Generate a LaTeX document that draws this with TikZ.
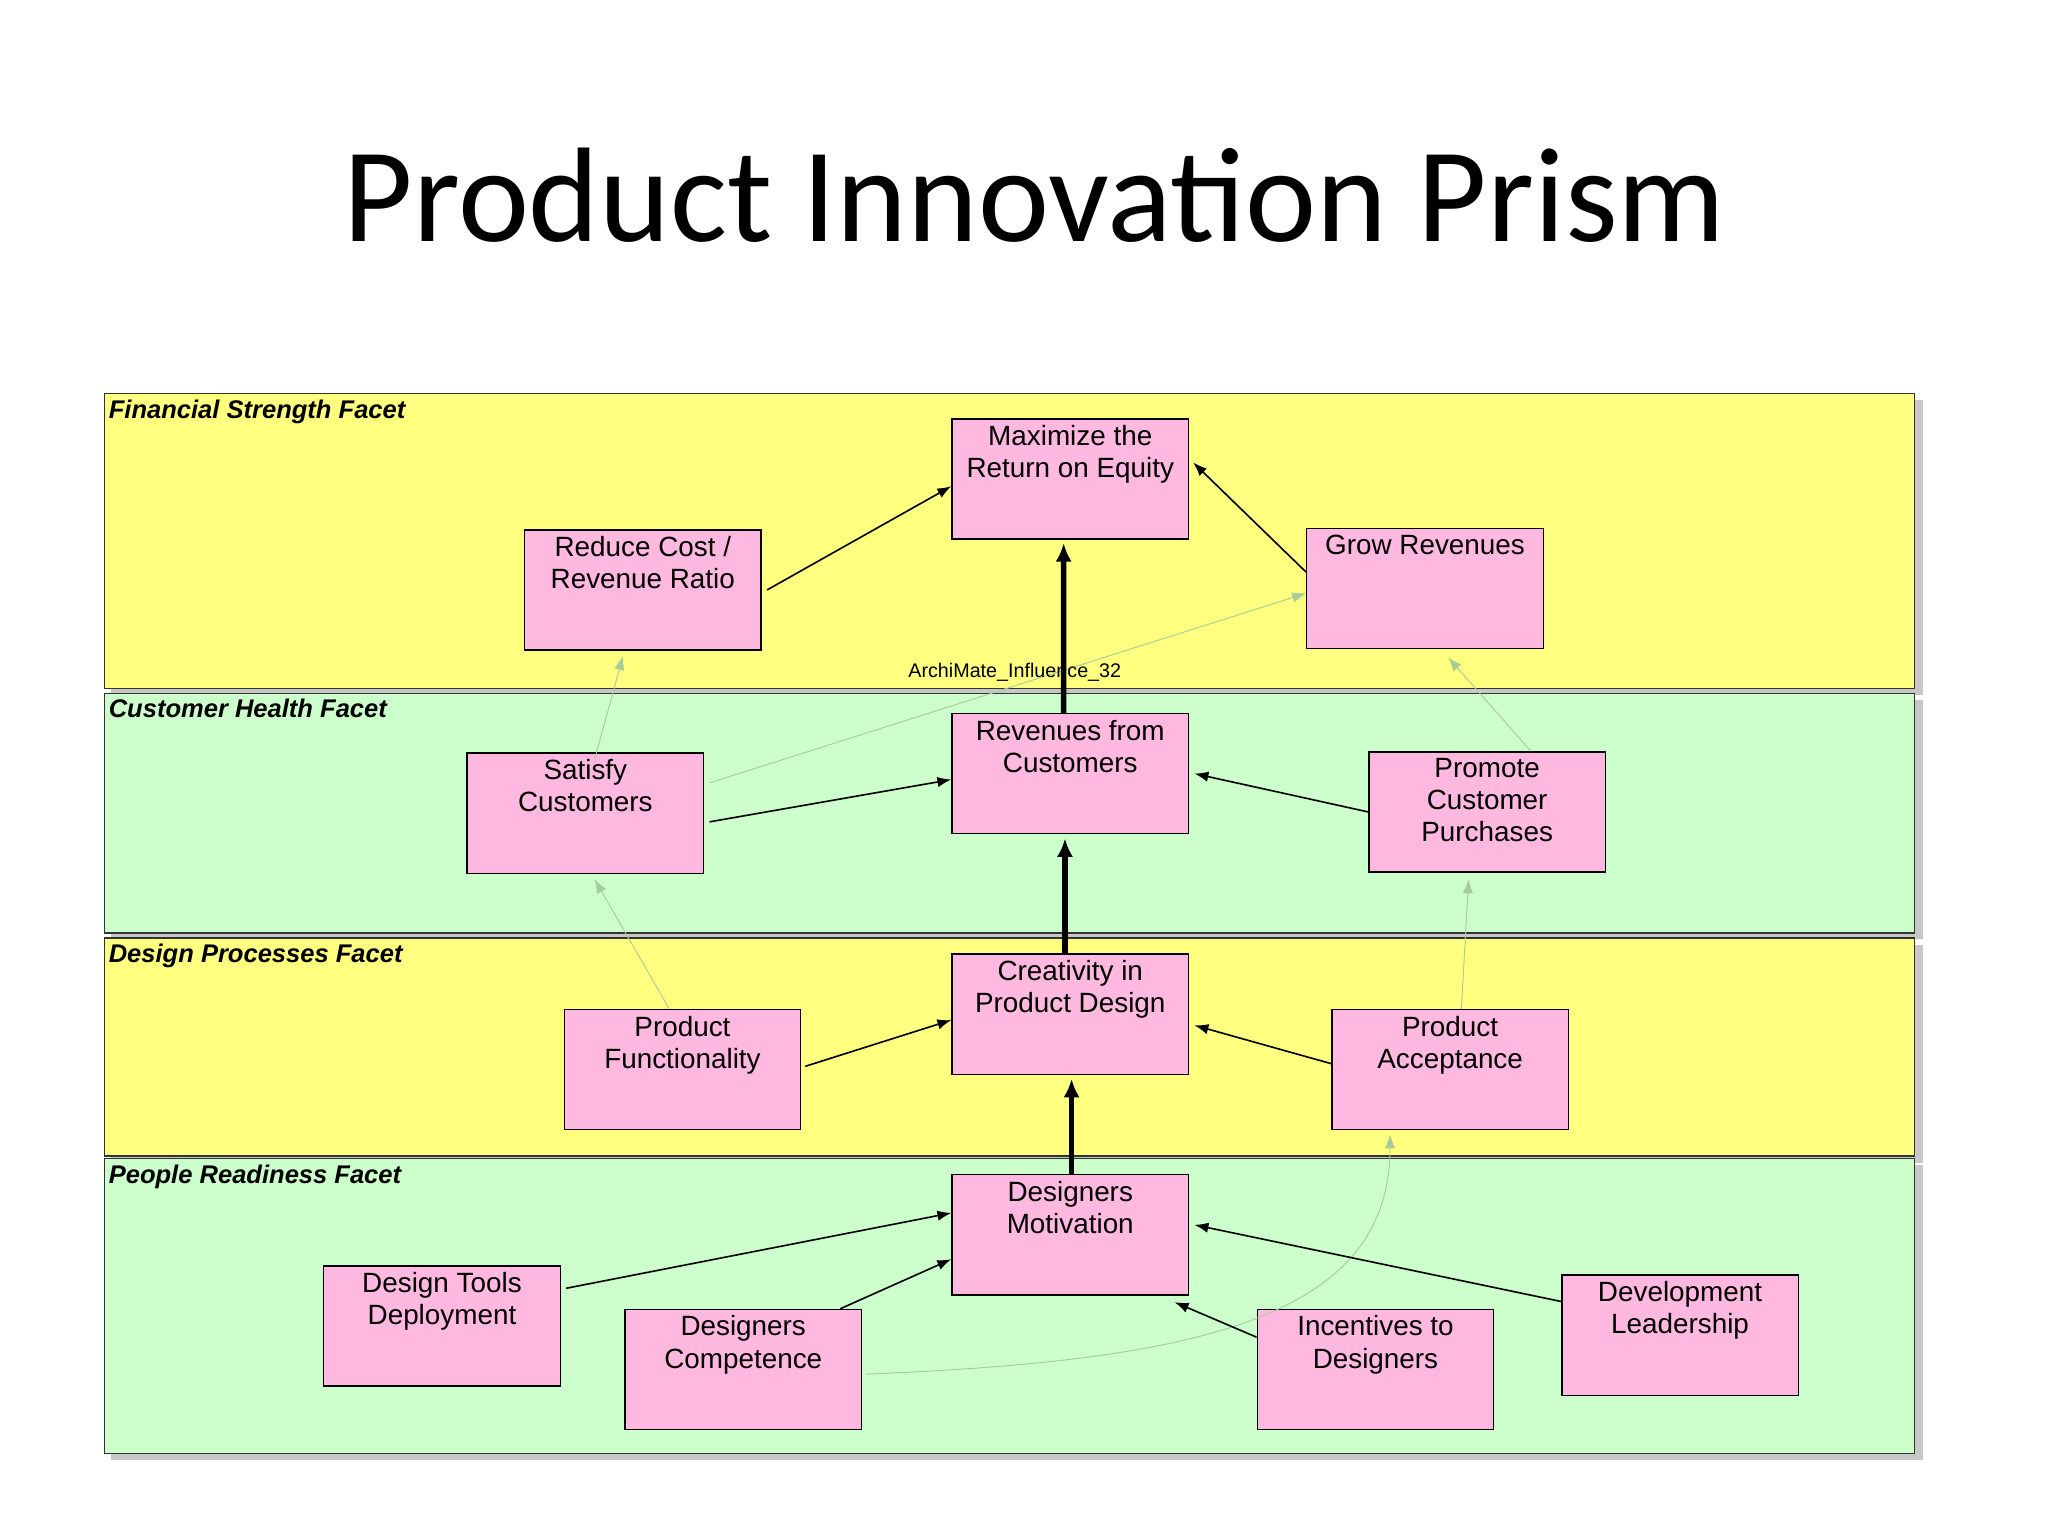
\documentclass[tikz,border=0pt]{standalone}
\usepackage{fontspec}
\setmainfont{Liberation Sans}
\newfontfamily\titlefont{Carlito}
\usetikzlibrary{shapes.misc,arrows.meta}
\definecolor{fy}{HTML}{FFFF80}
\definecolor{fg}{HTML}{CCFFCC}
\definecolor{pk}{HTML}{FFB8E0}
\definecolor{lg}{HTML}{A8CC98}
\begin{document}
\begin{tikzpicture}[x=0.02cm,y=-0.02cm,
  facet/.style={draw=black!80,line width=0.6pt},
  shadow/.style={fill=black!22,draw=none},
  flabel/.style={anchor=north west,font=\fontsize{11}{13}\selectfont\bfseries\itshape,inner sep=0pt},
  el/.style={chamfered rectangle,chamfered rectangle xsep=0.2cm,chamfered rectangle ysep=0.2cm,draw=black,fill=pk,minimum width=3.58cm,minimum height=1.82cm,inner sep=0pt,line width=0.6pt},
  etext/.style={anchor=north,align=center,font=\fontsize{12}{13.8}\selectfont,inner sep=0pt},
  thin/.style={-{Latex[length=6pt,width=4.5pt]},line width=0.7pt},
  thick/.style={-{Latex[length=8pt,width=7pt]},line width=2.4pt},
  soft/.style={-{Latex[length=6pt,width=4.5pt]},line width=0.4pt,draw=lg},
]
\useasboundingbox[fill=white] (0,0) rectangle (1550,1162);
\node[font=\titlefont\fontsize{58}{64}\selectfont] (title) at (783,148) {Product Innovation Prism};
% facets
\foreach \a/\b/\c in {298/521/fy,525/706/fg,710/875/fy,877/1100/fg}{
  \fill[shadow] (84,\a+5) rectangle (1455,\b+5);
  \draw[facet,fill=\c] (79,\a) rectangle (1449,\b);
}
\node[flabel] (f1) at (82,302) {Financial Strength Facet};
\node[flabel] (f2) at (82,529) {Customer Health Facet};
\node[flabel] (f3) at (82,714) {Design Processes Facet};
\node[flabel] (f4) at (82,881) {People Readiness Facet};
% elements
\newcommand\elem[4]{\node[el] (#1) at (#2,#3) {};
  \node[etext] (#1t) at ([yshift=-0.1cm]#1.north) {#4};}
\elem{max}{810}{362.5}{Maximize the\\ Return on Equity}
\elem{red}{486.5}{446.5}{Reduce Cost /\\ Revenue Ratio}
\elem{grow}{1078.5}{445.5}{Grow Revenues}
\elem{sat}{443}{615.5}{Satisfy\\ Customers}
\elem{rev}{810}{585.5}{Revenues from\\ Customers}
\elem{pro}{1125.5}{614.5}{Promote\\ Customer\\ Purchases}
\elem{pf}{516.5}{809.5}{Product\\ Functionality}
\elem{cre}{810}{767.5}{Creativity in\\ Product Design}
\elem{pa}{1097.5}{809.5}{Product\\ Acceptance}
\elem{dm}{810}{934.5}{Designers\\ Motivation}
\elem{dt}{334.5}{1003.5}{Design Tools\\ Deployment}
\elem{dc}{562.5}{1036.5}{Designers\\ Competence}
\elem{inc}{1041}{1036.5}{Incentives to\\ Designers}
\elem{dl}{1271.5}{1010.5}{Development\\ Leadership}
% soft influences
\draw[soft] ([xshift=10\pgflinewidth,yshift=-0.1cm]sat.north) -- ([xshift=-0.3cm,yshift=-0.08cm]red.south);
\draw[soft] ([xshift=0.08cm,yshift=0.46cm]sat.east) -- ([yshift=-0.07cm]grow.west);
\draw[soft] ([xshift=0.66cm]pro.north) -- ([xshift=0.35cm,yshift=-0.12cm]grow.south);
\draw[soft] ([xshift=-0.2cm]pf.north) -- ([xshift=0.14cm,yshift=-0.08cm]sat.south);
\draw[soft] ([xshift=0.17cm]pa.north) -- ([xshift=-0.28cm,yshift=-0.1cm]pro.south);
\draw[soft] ([xshift=0.06cm,yshift=-0.07cm]dc.east) .. controls (900,1030) and (1052,1000) .. ([xshift=-0.91cm,yshift=-0.06cm]pa.south);
% influences
\draw[thin] ([xshift=0.08cm]red.east) -- ([yshift=-0.11cm]max.west);
\draw[thin] ([yshift=0.25cm]grow.west) -- ([xshift=0.06cm,yshift=0.25cm]max.east);
\draw[thick] (rev.north -| {(805,0)}) -- ([xshift=-0.1cm,yshift=-0.05cm]max.south);
\draw[thin] ([xshift=0.08cm,yshift=-0.13cm]sat.east) -- ([yshift=-0.09cm]rev.west);
\draw[thin] (pro.west) -- ([xshift=0.08cm]rev.east);
\draw[thick] ([xshift=-0.08cm]cre.north) -- ([xshift=-0.08cm,yshift=-0.06cm]rev.south);
\draw[thin] ([xshift=0.06cm,yshift=0.05cm]pf.east) -- ([yshift=-0.09cm]cre.west);
\draw[thin] ([yshift=0.09cm]pa.west) -- ([xshift=0.08cm,yshift=-0.17cm]cre.east);
\draw[thick] ([xshift=0.02cm]dm.north) -- ([xshift=0.02cm,yshift=-0.06cm]cre.south);
\draw[thin] ([xshift=0.08cm,yshift=0.57cm]dt.east) -- ([yshift=0.33cm]dm.west);
\draw[thin] ([xshift=1.47cm]dc.north) -- ([yshift=-0.37cm]dm.west);
\draw[thin] ([yshift=0.49cm]inc.west) -- ([xshift=1.58cm,yshift=-0.1cm]dm.south);
\draw[thin] ([yshift=0.51cm]dl.west) -- ([xshift=0.08cm,yshift=0.15cm]dm.east);
\node[font=\fontsize{8.5}{10}\selectfont,fill=none,inner sep=0pt] (lab) at (768,509) {ArchiMate\_Influence\_32};
\end{tikzpicture}
\end{document}
